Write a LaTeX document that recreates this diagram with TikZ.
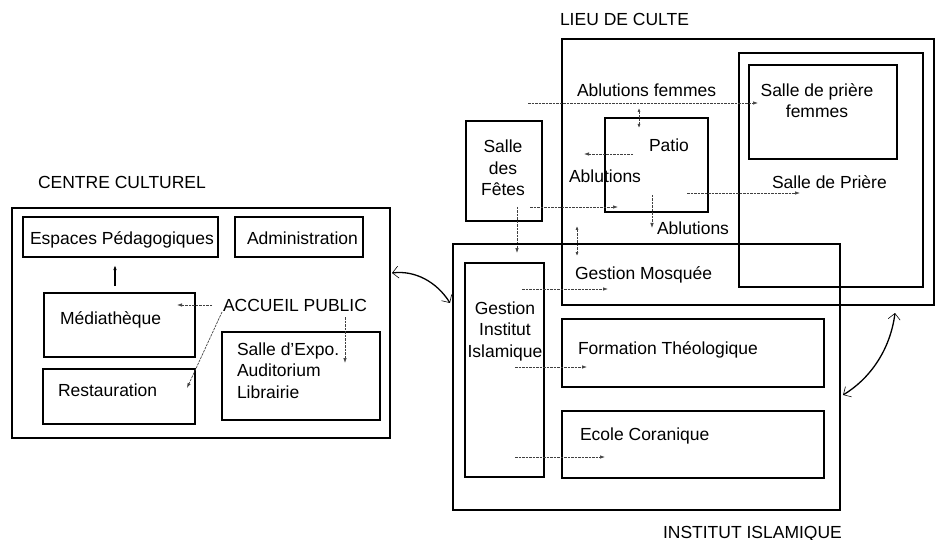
\documentclass[tikz,border=0pt]{standalone}
\usepackage{fontspec}
\setmainfont{Liberation Sans}
\usetikzlibrary{arrows.meta}
\begin{document}
\begin{tikzpicture}[x=1pt,y=-1pt,
  every node/.style={inner sep=0pt, outer sep=0pt, font=\fontsize{17.5}{21.5}\selectfont},
  zone/.style={draw, line width=2.8pt, inner sep=0pt},
  room/.style={draw, line width=1.5pt, inner sep=0pt},
  thinroom/.style={draw, line width=1.1pt, inner sep=0pt},
  lbl/.style={anchor=base west},
  mlbl/.style={align=center, anchor=base},
  flow/.style={draw=black!75, line width=0.7pt, dash pattern=on 2.5pt off 1pt,
    -{Latex[length=5pt,width=3.5pt]}},
  flow2/.style={flow, {Latex[length=4pt,width=3pt]}-{Latex[length=4pt,width=3pt]}},
  link/.style={line width=1.3pt,
    {Straight Barb[length=6pt,width=12pt,line width=0.6pt]}-{Straight Barb[length=6pt,width=12pt,line width=0.6pt]}}
]
\useasboundingbox (0,0) rectangle (937,540);

% ---------- Centre culturel ----------
\node[anchor=base west] (ccT) at (38,189) {CENTRE CULTUREL};
\node[zone, line width=2.4pt, minimum width=378pt, minimum height=230pt] (cc) at (201,323) {};
\node[room, minimum width=195pt, minimum height=40pt] (esp) at (120.5,237) {};
\node[room, minimum width=128pt, minimum height=40pt] (adm) at (299,237) {};
\node[room, minimum width=151pt, minimum height=64pt] (med) at (119.5,325) {};
\node[room, minimum width=152pt, minimum height=55pt] (rest) at (119,396.5) {};
\node[room, minimum width=158pt, minimum height=88pt] (expo) at (301,376) {};

\node[lbl] (espT) at (30,244) {Espaces Pédagogiques};
\node[lbl] (admT) at (247,244) {Administration};
\node[lbl] (medT) at (60,324) {Médiathèque};
\node[lbl] (restT) at (58,396) {Restauration};
\node[lbl] (acc) at (223,311) {ACCUEIL PUBLIC};
\node[anchor=base west, align=left] (expoT) at (237,398) {Salle d'Expo.\\Auditorium\\Librairie};

\coordinate (medIn) at (177,305);
\coordinate (accW) at (212,305);
\coordinate (accSW) at (222,312);
\coordinate (restIn) at (187,388);
\coordinate (accS) at (345,317);
\coordinate (expoIn) at (345,363);
\coordinate (medUp) at (115,286);
\coordinate (espDn) at (115,265);

\draw[flow] (accW) -- (medIn);
\draw[flow] (accSW) -- (restIn);
\draw[flow] (accS) -- (expoIn);
\draw[line width=1.1pt, -{Latex[length=5pt,width=3.5pt]}] (medUp) -- (espDn);

% ---------- Lieu de culte ----------
\node[anchor=base west] (lcT) at (560,26) {LIEU DE CULTE};
\node[zone, minimum width=372pt, minimum height=266pt] (lc) at (748,172) {};
\node[room, line width=1.8pt, minimum width=184pt, minimum height=234pt] (sp) at (831,170) {};
\node[room, minimum width=148pt, minimum height=94pt] (spf) at (823,112) {};
\node[room, minimum width=103pt, minimum height=94pt] (patio) at (656.5,165) {};
\node[room, minimum width=76pt, minimum height=100pt] (fetes) at (504,171) {};

\node[mlbl] (spfT) at (817,118) {Salle de prière\\femmes};
\node[lbl] (ablF) at (577,97) {Ablutions femmes};
\node[lbl] (patioT) at (649,152) {Patio};
\node[lbl] (ablL) at (569,183) {Ablutions};
\node[lbl] (spT) at (772,189) {Salle de Prière};
\node[lbl] (ablB) at (657,234) {Ablutions};
\node[mlbl] (fetesT) at (503,196) {Salle\\des\\Fêtes};

\coordinate (ablFa) at (528,103);
\coordinate (ablFb) at (758,103);
\coordinate (patN1) at (639,108);
\coordinate (patN2) at (639,128);
\coordinate (patWa) at (633,154);
\coordinate (patWb) at (584,154);
\coordinate (patEa) at (687,193);
\coordinate (patEb) at (800,193);
\coordinate (fetEa) at (530,207);
\coordinate (fetEb) at (618,207);
\coordinate (fetSa) at (517,207);
\coordinate (fetSb) at (517,253);
\coordinate (patSa) at (652,195);
\coordinate (patSb) at (652,228);
\coordinate (mosA) at (577,226);
\coordinate (mosB) at (577,256);

\draw[flow] (ablFa) -- (ablFb);
\draw[flow2] (patN1) -- (patN2);
\draw[flow] (patWa) -- (patWb);
\draw[flow] (patEa) -- (patEb);
\draw[flow] (fetEa) -- (fetEb);
\draw[flow] (fetSa) -- (fetSb);
\draw[flow] (patSa) -- (patSb);
\draw[flow2] (mosA) -- (mosB);

% ---------- Institut islamique ----------
\node[zone, minimum width=387pt, minimum height=266pt] (ii) at (646.5,377) {};
\node[thinroom, minimum width=79pt, minimum height=214pt] (gii) at (504.5,370) {};
\node[thinroom, minimum width=262pt, minimum height=68pt] (ft) at (693,353) {};
\node[thinroom, minimum width=262pt, minimum height=67pt] (ec) at (693,444.5) {};

\node[lbl] (gmT) at (575,279) {Gestion Mosquée};
\node[mlbl] (giiT) at (505,357) {Gestion\\Institut\\Islamique};
\node[lbl] (ftT) at (578,354) {Formation Théologique};
\node[lbl] (ecT) at (580,440) {Ecole Coranique};
\node[anchor=base west] (iiT) at (663,538) {INSTITUT ISLAMIQUE};

\coordinate (gmA) at (522,289);
\coordinate (gmB) at (608,289);
\coordinate (ftA) at (515,367);
\coordinate (ftB) at (587,367);
\coordinate (ecA) at (515,457);
\coordinate (ecB) at (605,457);

\draw[flow] (gmA) -- (gmB);
\draw[flow] (ftA) -- (ftB);
\draw[flow] (ecA) -- (ecB);

% ---------- links between the three poles ----------
\coordinate (ccE) at (392,273);
\coordinate (iiW) at (450,303);
\coordinate (iiE) at (843,395);
\coordinate (lcS) at (895,313);
\draw[link] (ccE) .. controls (415,270) and (437,282) .. (iiW);
\draw[link] (iiE) .. controls (868,380) and (890,352) .. (lcS);
\end{tikzpicture}
\end{document}
